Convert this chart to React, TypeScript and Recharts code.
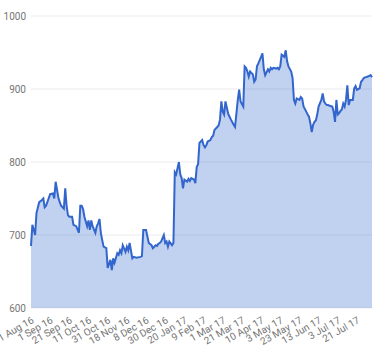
import React from "react";
import { AreaChart, Area, XAxis, YAxis, CartesianGrid } from "recharts";

// trading-day index (0 = 11 Aug 16) of each sampled close
const tradingDay: number[] = [
  0, 1, 3, 4, 6, 8, 9, 10, 11, 14, 16, 17, 18, 20, 21, 22, 24, 25, 26, 27,
  28, 30, 31, 33, 35, 36, 37, 38, 39, 41, 42, 43, 44, 45, 47, 48, 49, 50, 51, 52,
  53, 55, 56, 58, 59, 60, 61, 63, 64, 65, 66, 67, 69, 70, 71, 72, 74, 75, 77, 80,
  81, 82, 84, 86, 88, 89, 91, 92, 93, 94, 95, 97, 98, 99, 100, 101, 103, 104, 105, 106,
  108, 109, 110, 111, 112, 114, 115, 116, 117, 119, 120, 121, 122, 123, 125, 126, 127, 128, 129, 131,
  132, 133, 134, 136, 137, 138, 139, 140, 141, 142, 144, 145, 146, 148, 149, 151, 152, 153, 155, 156,
  157, 158, 159, 160, 162, 163, 164, 165, 166, 168, 169, 170, 171, 173, 174, 175, 176, 177, 179, 180,
  181, 182, 183, 185, 186, 187, 188, 190, 191, 192, 193, 194, 196, 197, 198, 199, 201, 202, 203, 204,
  205, 206, 207, 208, 209, 210, 212, 213, 214, 215, 216, 217, 218, 220, 221, 222, 223, 224, 225, 226,
  227, 228, 229, 230, 231, 232, 233, 235, 236, 237, 238, 240, 241, 242, 243, 244, 246, 247, 248, 249,
];

const closePrice: number[] = [
  685, 714, 700, 730, 745, 748, 750, 738, 740, 756, 757, 750, 773, 751, 745, 740, 736, 764, 740, 727,
  725, 725, 714, 712, 703, 740, 740, 736, 725, 712, 720, 707, 720, 712, 703, 712, 716, 722, 703, 693,
  684, 682, 655, 666, 652, 668, 662, 675, 673, 679, 675, 686, 677, 684, 679, 689, 668, 670, 669, 670,
  671, 707, 707, 689, 686, 682, 686, 685, 688, 689, 691, 700, 689, 691, 684, 691, 686, 689, 786, 783,
  800, 783, 778, 764, 776, 773, 777, 774, 778, 776, 771, 793, 797, 826, 830, 823, 820, 823, 828, 830,
  834, 836, 844, 848, 850, 858, 883, 869, 865, 883, 866, 862, 858, 851, 848, 885, 899, 883, 876, 931,
  929, 924, 917, 924, 920, 910, 913, 931, 935, 944, 949, 927, 919, 927, 924, 929, 927, 929, 928, 929,
  927, 931, 947, 944, 953, 938, 931, 924, 915, 885, 880, 887, 885, 889, 887, 876, 869, 865, 862, 853,
  841, 851, 855, 857, 865, 876, 885, 894, 883, 880, 878, 878, 877, 876, 869, 855, 885, 865, 867, 870,
  872, 880, 876, 885, 905, 878, 885, 885, 901, 904, 899, 901, 910, 912, 915, 916, 917, 918, 919, 916,
];

const tickDays: number[] = [0, 14, 28, 42, 56, 70, 84, 98, 112, 126, 140, 154, 168, 182, 196, 210, 224, 238];
const tickLabels: string[] = [
  "11 Aug 16", "1 Sep 16", "21 Sep 16", "11 Oct 16", "31 Oct 16", "18 Nov 16", "8 Dec 16", "30 Dec 16",
  "20 Jan 17", "9 Feb 17", "1 Mar 17", "21 Mar 17", "10 Apr 17", "3 May 17", "23 May 17", "13 Jun 17",
  "3 Jul 17", "21 Jul 17",
];
const yTicks: number[] = [600, 700, 800, 900, 1000];

const data = tradingDay.map((d, i) => ({ day: d, close: closePrice[i] }));

const labelFor = (v: number) => {
  const idx = tickDays.indexOf(v);
  return idx >= 0 ? tickLabels[idx] : "";
};

export default function App() {
  return (
    <div>
      <style>{`body{margin:0}`}</style>
      <AreaChart
        width={380}
        height={350}
        data={data}
        margin={{ top: 16, right: 8, left: 0, bottom: 0 }}
        style={{ fontFamily: "Roboto" }}
      >
        <CartesianGrid vertical={false} stroke="#ebebeb" />
        <XAxis
          dataKey="day"
          type="number"
          domain={[0, 249]}
          ticks={tickDays}
          interval={0}
          tickFormatter={labelFor}
          angle={-30}
          textAnchor="end"
          height={42}
          axisLine={false}
          tickLine={false}
          tick={{ fontSize: 10, fill: "#757575", fontFamily: "Roboto" }}
        />
        <YAxis
          domain={[600, 1000]}
          ticks={yTicks}
          width={31}
          axisLine={false}
          tickLine={false}
          tickSize={0}
          tickMargin={5}
          tick={{ fontSize: 10, fill: "#757575", fontFamily: "Roboto" }}
        />
        <Area
          type="linear"
          dataKey="close"
          stroke="#3366cc"
          strokeWidth={2}
          fill="#3366cc"
          fillOpacity={0.3}
          dot={false}
          activeDot={false}
          isAnimationActive={false}
        />
      </AreaChart>
    </div>
  );
}
